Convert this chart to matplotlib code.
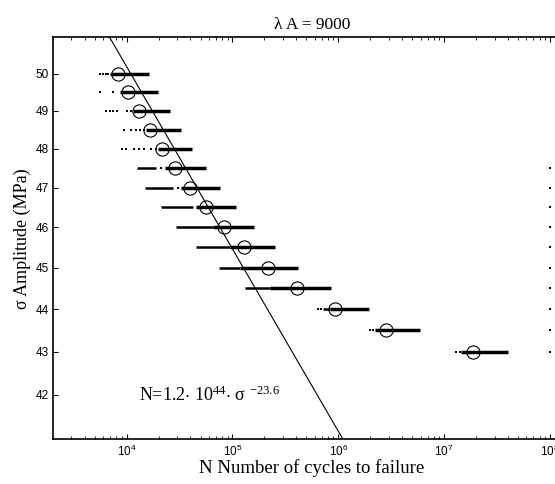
import numpy as np
import matplotlib
matplotlib.use('Agg')
import matplotlib.pyplot as plt
from matplotlib.ticker import FixedLocator, NullLocator, FuncFormatter, LogLocator

plt.rcParams['font.family'] = ['Liberation Serif', 'DejaVu Serif']
plt.rcParams['mathtext.fontset'] = 'custom'
plt.rcParams['mathtext.rm'] = 'Liberation Serif'
plt.rcParams['mathtext.it'] = 'Liberation Serif:italic'
plt.rcParams['mathtext.sf'] = 'Liberation Sans'

# stress levels (MPa) and the cycle values
levels = [50, 49.5, 49, 48.5, 48, 47.5, 47, 46.5, 46, 45.5, 45, 44.5, 44, 43.5, 43]
median_N = [8275, 10290, 12990, 16750, 21420, 28860, 39410, 56660, 83120,
            128400, 216500, 407000, 924600, 2.805e6, 1.876e7]
dense_lo = [6909, 8720, 11470, 15120, 19760, 22870, 32890, 45590, 65420,
            94090, 117000, 224700, 829200, 2.208e6, 1.457e7]
dense_hi = [16240, 19760, 25490, 32390, 41780, 56660, 76850, 108900, 159700,
            250500, 416000, 860500, 1.938e6, 5.970e6, 4.018e7]
nan = np.nan
sparse_lo = [nan, nan, nan, nan, nan, 12510, 15020, 20960, 29500, 45590,
             74560, 132400, 716800, nan, nan]
sparse_hi = [nan, nan, nan, nan, nan, 19090, 27390, 42340, 65420, 94090,
             117000, 224700, 829200, nan, nan]
tail_N = [[5641, 5970, 6331, 6658],
          [5640, 7421],
          [6428, 6909, 7421, 8044, 10070, 11080],
          [9370, 11080, 12160, 13270, 14480],
          [9107, 9935, 11720, 12990, 14480, 17120, 19090],
          [21280], [30540], [], [], [], [], [],
          [642800, 692300],
          [1.981e6, 2.114e6],
          [1.307e7, 1.404e7]]

# run-outs stopped at 10^8 cycles
runout_levels = [47.5, 47, 46.5, 46, 45.5, 45, 44.5, 44, 43.5, 43]
runout_N = [1e8] * len(runout_levels)

# fitted S-N line end points
fit_N = [6900, 1.108e6]
fit_sigma = [51, 41]

fig = plt.figure(figsize=(5.55, 4.84), dpi=100)
ax = fig.add_axes([0.095, 0.0924, 0.9346, 0.8305])
ax.set_xscale('log')
ax.set_yscale('log')

# sample clouds
ax.hlines(levels, sparse_lo, sparse_hi, colors='black', linewidth=1.8)
ax.hlines(levels, dense_lo, dense_hi, colors='black', linewidth=2.5)
for lev, pts in zip(levels, tail_N):
    if pts:
        ax.plot(pts, [lev] * len(pts), 's', color='black', markersize=1.6, markeredgewidth=0)
ax.plot(runout_N, runout_levels, 's', color='black', markersize=1.9, markeredgewidth=0)

# median markers
ax.plot(median_N, levels, 'o', markerfacecolor='none', markeredgecolor='black',
        markersize=9.5, markeredgewidth=0.8)

# fit line
ax.plot(fit_N, fit_sigma, color='black', linewidth=0.8)

ax.text(12980, 42, r'N=1.2$\cdot$ 10$^{44}$$\cdot$ σ $^{-23.6}$', fontsize=13,
        ha='left', va='center')

ax.set_xlim(2000, 1.6e8)
ax.set_ylim(41, 51)

ax.xaxis.set_major_locator(LogLocator(base=10, numticks=10))
ax.xaxis.set_minor_locator(LogLocator(base=10, subs=np.arange(2, 10), numticks=20))
ax.xaxis.set_major_formatter(FuncFormatter(lambda v, p: r'$\mathsf{10^{%d}}$' % round(np.log10(v))))
ax.yaxis.set_major_locator(FixedLocator([42, 43, 44, 45, 46, 47, 48, 49, 50]))
ax.yaxis.set_minor_locator(NullLocator())
ax.yaxis.set_major_formatter(FuncFormatter(lambda v, p: '%d' % v))

ax.tick_params(which='both', direction='in', top=True, right=True, colors='black')
ax.tick_params(which='major', length=3.5, width=0.8, labelsize=8.5, pad=3)
ax.tick_params(which='minor', length=2, width=0.6)
ax.tick_params(axis='y', labelfontfamily='Liberation Sans')
for s in ax.spines.values():
    s.set_linewidth(1.2)

ax.set_title('λ A = 9000', fontsize=12.5, pad=6)
ax.set_xlabel('N Number of cycles to failure', fontsize=13.5, labelpad=0)
ax.set_ylabel('σ Amplitude (MPa)', fontsize=13, labelpad=3)

fig.savefig('out.png', dpi=100)
